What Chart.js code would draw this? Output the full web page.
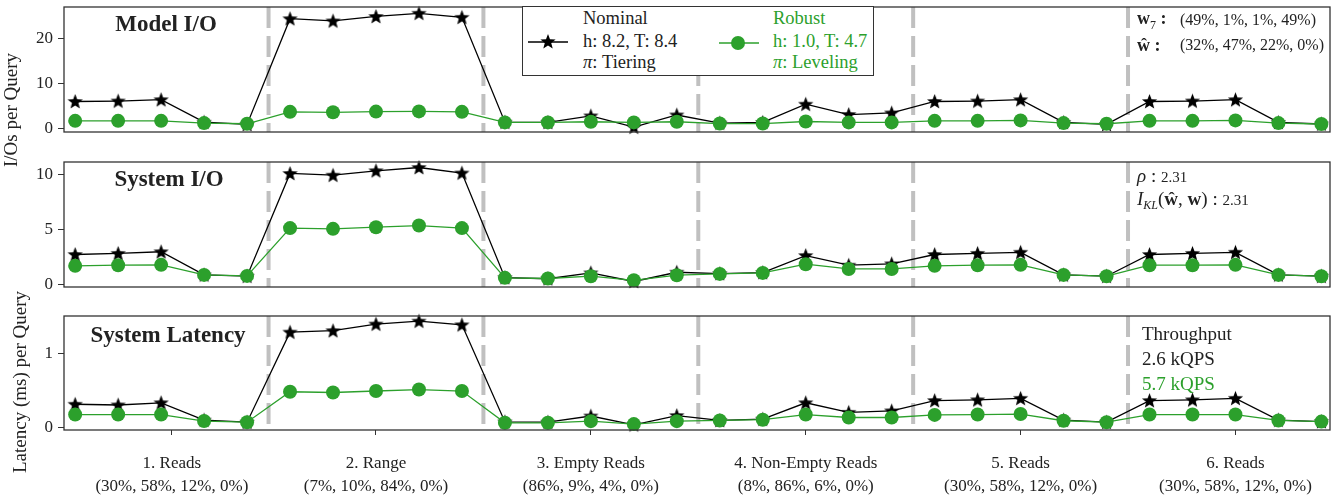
<!DOCTYPE html>
<html>
<head>
<meta charset="utf-8">
<script src="https://cdn.jsdelivr.net/npm/chart.js@4.4.0/dist/chart.umd.min.js"></script>
<style>
  body { margin: 0; background: #fff; font-family: "Liberation Serif", serif; color: #222; }
  #wrap { position: relative; width: 1343px; height: 500px; overflow: hidden; }
  .panel { position: absolute; left: 0; width: 1343px; }
  .txt { position: absolute; white-space: nowrap; line-height: 1; transform: translateY(-50%); }
  .title { font-weight: bold; font-size: 23px; transform: translate(-50%, -50%); }
  .ylab { font-size: 19px; transform: translate(-50%, -50%) rotate(-90deg); }
  .green { color: #2ca02c; }
  #legend { position: absolute; left: 522px; top: 6px; width: 350px; height: 68px; border: 1px solid #333; background: #fff; }
  #legend .txt { font-size: 18.5px; }
  .note { font-size: 16px; }
  .big { font-size: 19px; }
  .small { font-size: 15px; }
</style>
</head>
<body>
<div id="wrap">
  <div class="panel" style="top:0px; height:150px"><canvas id="modelIO"></canvas></div>
  <div class="panel" style="top:150px; height:150px"><canvas id="systemIO"></canvas></div>
  <div class="panel" style="top:300px; height:200px"><canvas id="latency"></canvas></div>

  <div class="txt ylab" style="left:10px; top:110px">I/Os per Query</div>
  <div class="txt ylab" style="left:19px; top:382px">Latency (ms) per Query</div>

  <div class="txt title" style="left:166px; top:23px">Model I/O</div>
  <div class="txt title" style="left:169px; top:178px">System I/O</div>
  <div class="txt title" style="left:168px; top:334px">System Latency</div>

  <div id="legend">
    <svg id="handles" width="350" height="68" style="position:absolute;left:0;top:0"></svg>
    <div class="txt" style="left:60px; top:11px">Nominal</div>
    <div class="txt" style="left:60px; top:34px">h: 8.2, T: 8.4</div>
    <div class="txt" style="left:60px; top:55px"><i>π</i>: Tiering</div>
    <div class="txt green" style="left:250px; top:11px">Robust</div>
    <div class="txt green" style="left:250px; top:34px">h: 1.0, T: 4.7</div>
    <div class="txt green" style="left:250px; top:55px"><i>π</i>: Leveling</div>
  </div>

  <div class="txt" style="left:1137px; top:20px; font-size:18px"><b>w</b><sub style="font-size:12px">7</sub><b> :</b></div>
  <div class="txt note" style="left:1180px; top:20px">(49%, 1%, 1%, 49%)</div>
  <div class="txt" style="left:1137px; top:45px; font-size:18px"><b>ŵ :</b></div>
  <div class="txt note" style="left:1180px; top:45px">(32%, 47%, 22%, 0%)</div>

  <div class="txt big" style="left:1137px; top:175px"><i>ρ</i> : <span class="small">2.31</span></div>
  <div class="txt big" style="left:1137px; top:200px"><i>I</i><sub style="font-size:12px"><i>KL</i></sub>(<b>ŵ</b>, <b>w</b>) : <span class="small">2.31</span></div>

  <div class="txt big" style="left:1142px; top:333px">Throughput</div>
  <div class="txt big" style="left:1142px; top:358px">2.6 kQPS</div>
  <div class="txt big green" style="left:1142px; top:383px">5.7 kQPS</div>
</div>

<script>
const groupNames = ["1. Reads", "2. Range", "3. Empty Reads", "4. Non-Empty Reads", "5. Reads", "6. Reads"];
const groupMixes = ["(30%, 58%, 12%, 0%)", "(7%, 10%, 84%, 0%)", "(86%, 9%, 4%, 0%)", "(8%, 86%, 6%, 0%)", "(30%, 58%, 12%, 0%)", "(30%, 58%, 12%, 0%)"];
const groupTicks = [2.25, 7, 12, 17, 22, 27];
const boundaries = [4.5, 9.5, 14.5, 19.5, 24.5];

const modelNominal = [5.9, 6.0, 6.3, 1.3, 0.8, 24.3, 23.8, 24.8, 25.5, 24.6, 1.3, 1.25, 2.7, 0.2, 2.9, 1.1, 1.25, 5.3, 3.0, 3.35, 5.9, 6.0, 6.3, 1.25, 0.8, 5.9, 6.0, 6.3, 1.25, 0.9];
const modelRobust = [1.6, 1.6, 1.6, 1.1, 0.95, 3.6, 3.5, 3.65, 3.7, 3.6, 1.25, 1.25, 1.4, 1.25, 1.4, 1.0, 1.0, 1.45, 1.25, 1.25, 1.6, 1.6, 1.7, 1.1, 0.95, 1.6, 1.6, 1.7, 1.1, 0.9];

const sysNominal = [2.7, 2.8, 2.95, 0.85, 0.73, 10.06, 9.9, 10.3, 10.6, 10.1, 0.6, 0.5, 1.03, 0.25, 1.09, 0.97, 1.06, 2.6, 1.73, 1.85, 2.7, 2.8, 2.9, 0.85, 0.73, 2.7, 2.8, 2.9, 0.85, 0.73];
const sysRobust = [1.67, 1.73, 1.76, 0.85, 0.76, 5.1, 5.03, 5.18, 5.33, 5.1, 0.58, 0.52, 0.73, 0.36, 0.82, 0.94, 1.03, 1.82, 1.39, 1.39, 1.67, 1.73, 1.76, 0.85, 0.73, 1.73, 1.73, 1.76, 0.85, 0.73];

const latNominal = [0.31, 0.30, 0.33, 0.095, 0.066, 1.29, 1.31, 1.40, 1.44, 1.39, 0.07, 0.066, 0.15, 0.03, 0.156, 0.09, 0.107, 0.33, 0.2, 0.22, 0.36, 0.37, 0.39, 0.095, 0.066, 0.36, 0.37, 0.39, 0.095, 0.074];
const latRobust = [0.17, 0.17, 0.17, 0.082, 0.066, 0.48, 0.47, 0.49, 0.51, 0.49, 0.058, 0.058, 0.08, 0.04, 0.08, 0.09, 0.1, 0.17, 0.13, 0.13, 0.165, 0.17, 0.177, 0.086, 0.066, 0.17, 0.17, 0.17, 0.09, 0.074];

const modelTicks = [0, 10, 20];
const sysTicks = [0, 5, 10];
const latTicks = [0, 1];

const NOM = "#000000";
const ROB = "#2ca02c";
const FONT = "'Liberation Serif', serif";

function starPoints(cx, cy, R, r) {
  let pts = [];
  for (let i = 0; i < 10; i++) {
    const a = -Math.PI / 2 + i * Math.PI / 5;
    const rad = i % 2 === 0 ? R : r;
    pts.push([cx + rad * Math.cos(a), cy + rad * Math.sin(a)]);
  }
  return pts;
}

// filled star used as point style
const starImg = document.createElement("canvas");
starImg.width = 17;
starImg.height = 17;
(function () {
  const c = starImg.getContext("2d");
  c.fillStyle = NOM;
  c.beginPath();
  starPoints(8.5, 9, 8, 3.4).forEach((p, i) => (i ? c.lineTo(p[0], p[1]) : c.moveTo(p[0], p[1])));
  c.closePath();
  c.fill();
})();

// legend handles
(function () {
  const svg = document.getElementById("handles");
  const star = starPoints(25, 35, 8, 3.4).map((p) => p.join(",")).join(" ");
  svg.innerHTML =
    `<line x1="5" y1="35" x2="45" y2="35" stroke="${NOM}" stroke-width="1.3"/>
     <polygon points="${star}" fill="${NOM}"/>
     <line x1="196" y1="36" x2="236" y2="36" stroke="${ROB}" stroke-width="1.3"/>
     <circle cx="215" cy="36" r="7" fill="${ROB}"/>`;
})();

const framePlugin = {
  id: "frame",
  beforeDatasetsDraw(chart) {
    const ctx = chart.ctx;
    const a = chart.chartArea;
    const xs = chart.scales.x;
    ctx.save();
    ctx.strokeStyle = "#c0c0c0";
    ctx.lineWidth = 4;
    ctx.setLineDash([21, 8]);
    for (let b of boundaries) {
      const px = xs.getPixelForValue(b);
      ctx.beginPath();
      ctx.moveTo(px, a.top);
      ctx.lineTo(px, a.bottom);
      ctx.stroke();
    }
    ctx.restore();
  },
  afterDraw(chart) {
    const ctx = chart.ctx;
    const a = chart.chartArea;
    ctx.save();
    ctx.strokeStyle = "#333";
    ctx.lineWidth = 1.3;
    ctx.strokeRect(a.left, a.top, a.right - a.left, a.bottom - a.top);
    ctx.restore();
  },
};

function makePanel(id, nominal, robust, yMin, yMax, yTicks, padTop, padBottom, showX) {
  const toXY = (arr) => arr.map((v, i) => ({ x: i, y: v }));
  return new Chart(document.getElementById(id), {
    type: "line",
    data: {
      datasets: [
        {
          label: "Robust",
          data: toXY(robust),
          borderColor: ROB,
          backgroundColor: ROB,
          borderWidth: 1.3,
          pointRadius: 7,
          pointBorderWidth: 0,
          order: 0,
          clip: false,
        },
        {
          label: "Nominal",
          data: toXY(nominal),
          borderColor: NOM,
          backgroundColor: NOM,
          borderWidth: 1.3,
          pointStyle: starImg,
          order: 1,
          clip: false,
        },
      ],
    },
    options: {
      responsive: true,
      maintainAspectRatio: false,
      animation: false,
      layout: { padding: { top: padTop, bottom: padBottom, left: 0, right: 13 } },
      plugins: { legend: { display: false }, tooltip: { enabled: false } },
      scales: {
        x: {
          type: "linear",
          min: -0.26,
          max: 29.2,
          display: showX,
          afterBuildTicks: (s) => { s.ticks = groupTicks.map((v) => ({ value: v })); },
          afterFit: (s) => {
            s.height = showX ? 70 : 0;
            s.paddingLeft = 0;
            s.paddingRight = 0;
          },
          grid: { display: true, drawOnChartArea: false, drawTicks: true, tickLength: 5, color: "#333" },
          border: { display: false },
          ticks: {
            autoSkip: false,
            maxRotation: 0,
            padding: 17,
            color: "#222",
            font: { family: FONT, size: 17, lineHeight: 1.35 },
            callback: (v) => {
              const i = groupTicks.findIndex((t) => Math.abs(t - v) < 1e-6);
              return i < 0 ? "" : [groupNames[i], groupMixes[i]];
            },
          },
        },
        y: {
          min: yMin,
          max: yMax,
          afterBuildTicks: (s) => { s.ticks = yTicks.map((v) => ({ value: v })); },
          afterFit: (s) => {
            s.width = 64;
            s.paddingTop = 0;
            s.paddingBottom = 0;
          },
          grid: { display: true, drawOnChartArea: false, drawTicks: true, tickLength: 6, color: "#333" },
          border: { display: false },
          ticks: {
            padding: 5,
            color: "#222",
            font: { family: FONT, size: 17 },
            callback: (v) => String(v),
          },
        },
      },
    },
    plugins: [framePlugin],
  });
}

makePanel("modelIO", modelNominal, modelRobust, -0.88, 26.9, modelTicks, 6, 18, false);
makePanel("systemIO", sysNominal, sysRobust, -0.25, 11.1, sysTicks, 12, 13, false);
makePanel("latency", latNominal, latRobust, -0.04, 1.51, latTicks, 16, 0, true);
</script>
</body>
</html>
